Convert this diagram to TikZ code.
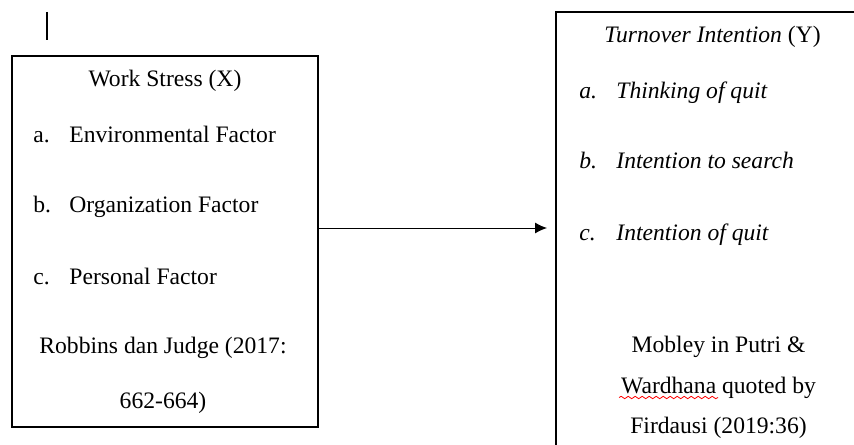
\documentclass[tikz,border=0pt]{standalone}
\usepackage{fontspec}
\setmainfont{Liberation Serif}
\usetikzlibrary{arrows.meta,decorations.pathmorphing}

\begin{document}
\begin{tikzpicture}[x=.5pt, y=-.5pt,
    every node/.style={
        inner sep=0pt,
        font=\fontsize{11.8}{14}\selectfont},
    box/.style={
        draw,
        rectangle,
        line width=.75pt}]

    \clip (0,0) rectangle (854,444);

    \draw[line width=.75pt] (47,12) -- (47,40);

    \node[box, minimum width=153pt, minimum height=185.5pt] (X) at (165,241.5) {};
    \node[box, minimum width=172pt, minimum height=234pt] (Y) at (728,246) {};

    \node[anchor=base] (X0) at (165,86) {Work Stress (X)};
    \node[anchor=base west] (Xa) at (33,142) {a.};
    \node[anchor=base west] (Xa1) at (69,142) {Environmental Factor};
    \node[anchor=base west] (Xb) at (33,212) {b.};
    \node[anchor=base west] (Xb1) at (69,212) {Organization Factor};
    \node[anchor=base west] (Xc) at (33,284) {c.};
    \node[anchor=base west] (Xc1) at (69,284) {Personal Factor};
    \node[anchor=base] (Xr1) at (163,353) {Robbins dan Judge (2017:};
    \node[anchor=base] (Xr2) at (163,408) {662-664)};

    \node[anchor=base] (Y0) at (712.5,43) {\textit{Turnover Intention} (Y)};
    \node[anchor=base west] (Ya) at (579,98) {\textit{a.}};
    \node[anchor=base west] (Ya1) at (616,98) {\textit{Thinking of quit}};
    \node[anchor=base west] (Yb) at (579,168) {\textit{b.}};
    \node[anchor=base west] (Yb1) at (616,168) {\textit{Intention to search}};
    \node[anchor=base west] (Yc) at (579,240) {\textit{c.}};
    \node[anchor=base west] (Yc1) at (616,240) {\textit{Intention of quit}};
    \node[anchor=base] (Yr1) at (718.5,352) {Mobley in Putri \&};
    \node[anchor=base] (Yr2) at (718.5,393) {Wardhana quoted by};
    \node[anchor=base] (Yr3) at (718.5,433) {Firdausi (2019:36)};

    \draw[red, decorate, decoration={snake, amplitude=.6pt, segment length=3.5pt}]
        (619,397.5) -- (718,397.5);

    \coordinate (tip) at (547,228);
    \draw[line width=.5pt, -{Latex[length=6pt,width=5.5pt]}] (X.east |- tip) -- (tip);
\end{tikzpicture}
\end{document}
